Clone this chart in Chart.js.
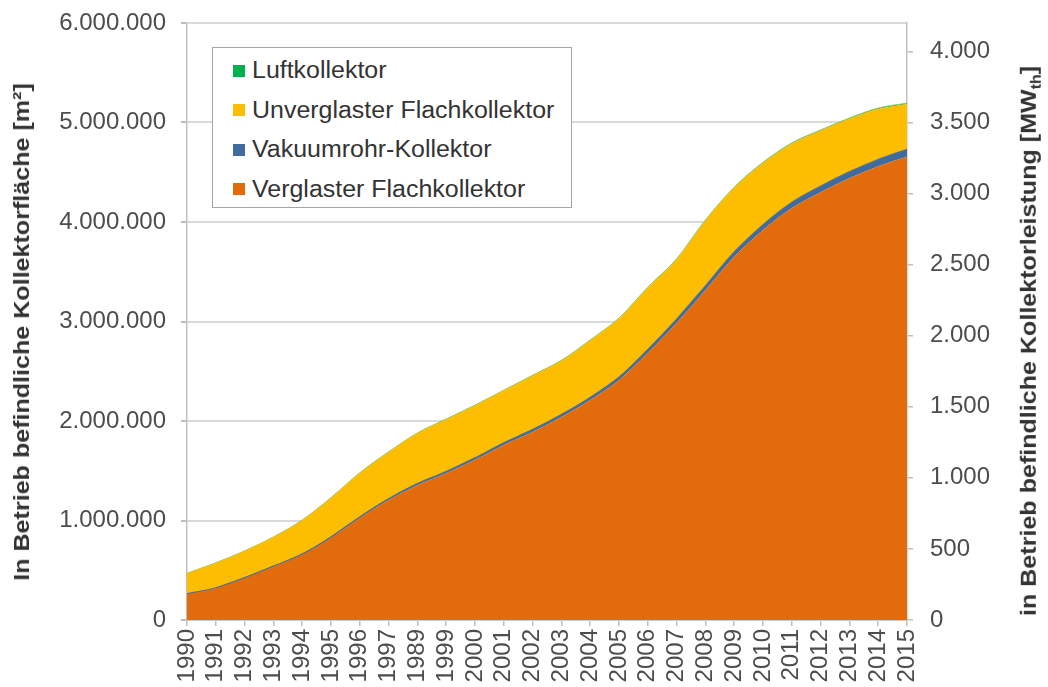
<!DOCTYPE html>
<html lang="de">
<head>
<meta charset="utf-8">
<title>Kollektorfläche in Betrieb</title>
<script src="https://cdn.jsdelivr.net/npm/chart.js@4/dist/chart.umd.min.js"></script>
<style>
    html, body { margin:0; padding:0; background:#fff; }
    #wrap { position:relative; width:1048px; height:687px; overflow:hidden; font-family:'Liberation Sans', Arial, sans-serif; }
    #chart { position:absolute; left:0; top:0; }
    .ytitle { position:absolute; white-space:nowrap; transform:translate(-50%,-50%) rotate(-90deg) scaleX(1.14); font-weight:bold; font-size:22px; color:#333; }
    .ytitle sub { font-size:14px; }
    #legend { position:absolute; left:212px; top:47px; width:360px; height:161px; border:1.5px solid #a6a6a6; background:#fff; box-sizing:border-box; padding-top:3px; }
    #legend .row { display:flex; align-items:center; height:39.5px; padding-left:20px; font-size:23px; color:#333; }
    #legend .box { width:12px; height:12px; margin-right:7px; flex:none; }
    #legend .txt { display:inline-block; transform:scaleX(1.085); transform-origin:left center; white-space:nowrap; }
</style>
</head>
<body>
<div id="wrap">
    <canvas id="chart" width="1048" height="687"></canvas>
    <div class="ytitle" style="left:22px; top:332px;">In Betrieb befindliche Kollektorfläche [m²]</div>
    <div class="ytitle" style="left:1030px; top:341px;">in Betrieb befindliche Kollektorleistung [MW<sub>th</sub>]</div>
    <div id="legend"></div>
</div>
<script>
// Jahre (Beschriftung so wie in der Quelle, inkl. "1989")
const years = ['1990','1991','1992','1993','1994','1995','1996','1997','1989','1999','2000','2001','2002','2003','2004','2005','2006','2007','2008','2009','2010','2011','2012','2013','2014','2015'];

// Kollektorfläche in m², je Kollektortyp
const verglasterFlach = [260000,320000,420000,535000,655000,825000,1025000,1205000,1355000,1475000,1610000,1760000,1890000,2040000,2210000,2410000,2685000,2985000,3315000,3650000,3920000,4140000,4300000,4440000,4560000,4655000];
const vakuumrohr      = [2000,3000,4000,5000,6000,8000,10000,12000,14000,16000,18000,20000,22000,24000,26000,28000,32000,36000,40000,45000,50000,55000,58000,62000,66000,75000];
const unverglaster    = [207000,251000,270000,293000,342000,395000,442000,470000,508000,525000,528000,526000,543000,541000,574000,591000,622000,603000,658000,648000,623000,592000,559000,535000,510000,456000];
const luftkollektor   = [1000,1000,1000,2000,2000,2000,3000,3000,3000,4000,4000,4000,5000,5000,5000,6000,6000,6000,7000,7000,7000,8000,8000,8000,9000,9000];

// Achsen: Fläche links, Leistung rechts (0,7 kW/m²)
const areaMax = 6000000, areaStep = 1000000;
const powerMax = 4200;
const powerTicks = [0, 500, 1000, 1500, 2000, 2500, 3000, 3500, 4000];

function dots(v){ return String(v).replace(/\B(?=(\d{3})+(?!\d))/g, '.'); }

function area(label, data, color, fill, extra){
    return Object.assign({
        label, data, fill,
        backgroundColor: color,
        borderColor: color,
        borderWidth: 0,
        pointRadius: 0,
        cubicInterpolationMode: 'monotone'
    }, extra || {});
}

// feste Breiten der y-Achsen, ohne Zusatzabstand oben/unten
function fixWidth(w){
    return s => { s.width = w; s.paddingTop = 0; s.paddingBottom = 0; };
}

const tickFont = { size: 24 };
const tickColor = '#4d4d4d';

const chart = new Chart(document.getElementById('chart'), {
    type: 'line',
    data: {
        labels: years,
        datasets: [
            area('Verglaster Flachkollektor', verglasterFlach, '#e26b0c', 'origin'),
            area('Vakuumrohr-Kollektor', vakuumrohr, '#3f6b9e', '-1', { borderWidth: 1.5, borderColor: '#4a6f98' }),
            area('Unverglaster Flachkollektor', unverglaster, '#fdbd00', '-1'),
            area('Luftkollektor', luftkollektor, '#00b050', '-1', { borderWidth: 1, borderColor: '#9cc95a' })
        ]
    },
    options: {
        responsive: false,
        animation: false,
        layout: { padding: { top: 23, left: 0, right: 0, bottom: 0 } },
        plugins: { legend: { display: false }, tooltip: { enabled: false } },
        scales: {
            x: {
                offset: false,
                grid: { drawOnChartArea: false, tickLength: 6, color: '#bfbfbf', lineWidth: 1.5 },
                border: { color: '#bfbfbf', width: 1.5 },
                ticks: { autoSkip: false, maxRotation: 90, minRotation: 90, padding: 3, font: tickFont, color: tickColor },
                afterFit: s => { s.height = 67; }
            },
            y: {
                stacked: true,
                min: 0, max: areaMax,
                grid: { color: '#d9d9d9', lineWidth: 2, tickLength: 6, tickColor: '#bfbfbf' },
                border: { color: '#bfbfbf', width: 1.5 },
                ticks: { stepSize: areaStep, padding: 15, font: tickFont, color: tickColor, callback: v => dots(v) },
                afterFit: fixWidth(187)
            },
            y2: {
                position: 'right',
                min: 0, max: powerMax,
                grid: { drawOnChartArea: false, tickLength: 6, color: '#bfbfbf', lineWidth: 1.5 },
                border: { color: '#bfbfbf', width: 1.5 },
                ticks: { padding: 17, font: tickFont, color: tickColor, callback: v => dots(v) },
                afterBuildTicks: s => { s.ticks = powerTicks.map(v => ({ value: v })); },
                afterFit: fixWidth(141)
            }
        }
    }
});

// Legende in umgekehrter Stapelreihenfolge
const legend = document.getElementById('legend');
chart.data.datasets.slice().reverse().forEach(ds => {
    const row = document.createElement('div');
    row.className = 'row';
    row.innerHTML = `<span class="box" style="background:${ds.backgroundColor}"></span><span class="txt">${ds.label}</span>`;
    legend.appendChild(row);
});
</script>
</body>
</html>
